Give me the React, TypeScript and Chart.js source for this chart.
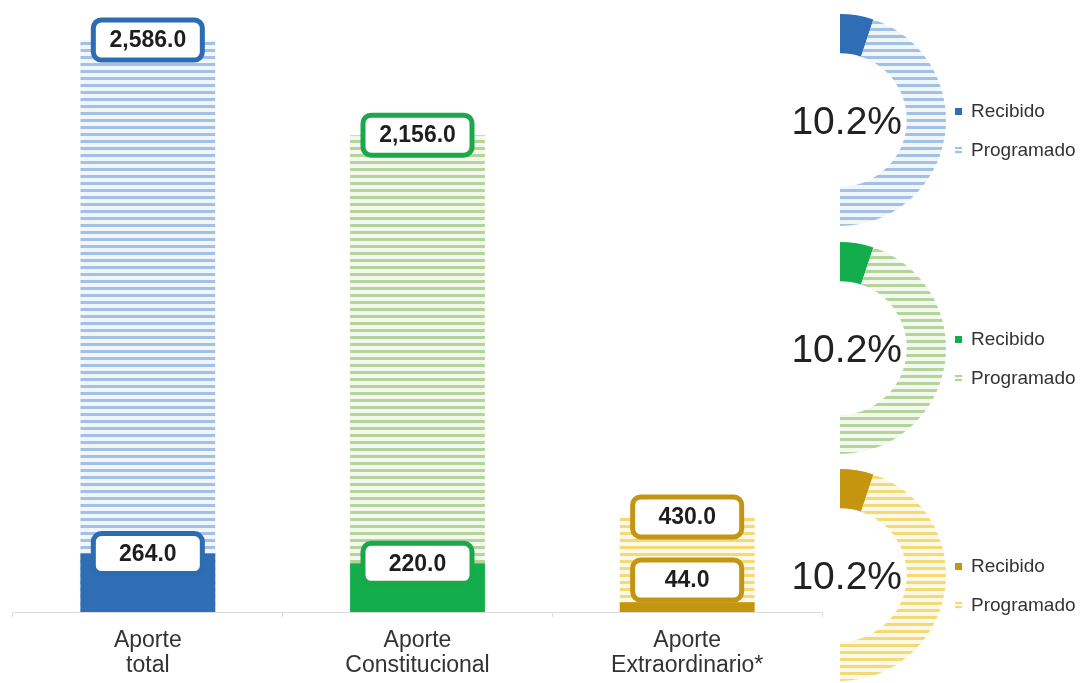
import React, { useEffect, useRef } from 'react';
import { Chart, registerables } from 'chart.js';
Chart.register(...registerables);

// ---- data ----
const categories: string[][] = [
  ['Aporte', 'total'],
  ['Aporte', 'Constitucional'],
  ['Aporte', 'Extraordinario*'],
];
const programado: number[] = [2586.0, 2156.0, 430.0];
const recibido: number[] = [264.0, 220.0, 44.0];
const seriesNames: string[] = ['Recibido', 'Programado'];
const yMax = 2767;

// ---- styles ----
const FONT = '"Liberation Sans", Arial, Helvetica, sans-serif';
const solidColors = ['#2f6db5', '#13ae4b', '#c4950f'];
const boxColors = ['#2c6cb3', '#1aa84b', '#c39513'];
const stripeLine = ['#a3c2e3', '#b4d49c', '#f3da78'];
const stripeBg = ['#f0f6fc', '#f4f9ef', '#fdf9e6'];

function makePattern(ctx: CanvasRenderingContext2D, line: string, bg: string) {
  const t = document.createElement('canvas');
  t.width = 8;
  t.height = 7;
  const c = t.getContext('2d')!;
  c.fillStyle = bg;
  c.fillRect(0, 0, 8, 7);
  c.fillStyle = line;
  c.fillRect(0, 0, 8, 3);
  return ctx.createPattern(t, 'repeat')!;
}

const fmt = (v: number) =>
  v.toLocaleString('en-US', { minimumFractionDigits: 1, maximumFractionDigits: 1 });

const boxPlugin = {
  id: 'valueBoxes',
  afterDatasetsDraw(chart: any) {
    const ctx = chart.ctx as CanvasRenderingContext2D;
    chart.data.datasets.forEach((ds: any, di: number) => {
      const meta = chart.getDatasetMeta(di);
      meta.data.forEach((el: any, i: number) => {
        const { x, y, base } = el.getProps(['x', 'y', 'base'], true);
        const w = 109;
        const h = 40;
        const cy = Math.min(y, base - 12 - h / 2);
        ctx.save();
        ctx.beginPath();
        (ctx as any).roundRect(x - w / 2, cy - h / 2, w, h, 8);
        ctx.fillStyle = '#ffffff';
        ctx.fill();
        ctx.lineWidth = 5;
        ctx.strokeStyle = boxColors[i];
        ctx.stroke();
        ctx.fillStyle = '#1e1e1e';
        ctx.font = `bold 23px ${FONT}`;
        ctx.textAlign = 'center';
        ctx.textBaseline = 'middle';
        ctx.fillText(fmt(ds.data[i]), x, cy + 1);
        ctx.restore();
      });
    });
  },
};

function BarChart() {
  const ref = useRef<HTMLCanvasElement>(null);
  useEffect(() => {
    const canvas = ref.current!;
    const ctx = canvas.getContext('2d')!;
    const patterns = stripeLine.map((l, i) => makePattern(ctx, l, stripeBg[i]));
    const chart = new Chart(canvas, {
      type: 'bar',
      data: {
        labels: categories as any,
        datasets: [
          {
            label: seriesNames[0],
            data: recibido,
            backgroundColor: solidColors,
            grouped: false,
            order: 0,
            barPercentage: 0.5,
            categoryPercentage: 1.0,
          } as any,
          {
            label: seriesNames[1],
            data: programado,
            backgroundColor: patterns as any,
            grouped: false,
            order: 1,
            barPercentage: 0.5,
            categoryPercentage: 1.0,
          } as any,
        ],
      },
      options: {
        animation: false,
        responsive: false,
        devicePixelRatio: 1,
        layout: { padding: { left: 13, right: 8, top: 0, bottom: 0 } },
        plugins: { legend: { display: false }, tooltip: { enabled: false } },
        scales: {
          y: { display: false, min: 0, max: yMax },
          x: {
            afterFit: (s: any) => {
              s.height = 71;
            },
            grid: {
              display: true,
              drawOnChartArea: false,
              offset: true,
              tickLength: 5,
              color: '#dcdcdc',
            },
            border: { display: true, color: '#dcdcdc', width: 1 },
            ticks: {
              color: '#333333',
              padding: 12,
              font: { family: FONT, size: 23, lineHeight: 1.05 },
            },
          },
        },
      },
      plugins: [boxPlugin],
    });
    return () => chart.destroy();
  }, []);
  return (
    <canvas
      ref={ref}
      width={830}
      height={683}
      style={{ position: 'absolute', left: 0, top: 0, width: 830, height: 683 }}
    />
  );
}

function HalfDoughnut({ index, top }: { index: number; top: number }) {
  const ref = useRef<HTMLCanvasElement>(null);
  useEffect(() => {
    const canvas = ref.current!;
    const ctx = canvas.getContext('2d')!;
    const pattern = makePattern(ctx, stripeLine[index], stripeBg[index]);
    const pct = (recibido[index] / programado[index]) * 100;
    const centerText = {
      id: 'centerText',
      afterDraw(chart: any) {
        const arc = chart.getDatasetMeta(0).data[0];
        if (!arc) return;
        const c = chart.ctx as CanvasRenderingContext2D;
        c.save();
        c.font = `39px ${FONT}`;
        c.fillStyle = '#222222';
        c.textAlign = 'right';
        c.textBaseline = 'alphabetic';
        c.fillText(pct.toFixed(1) + '%', arc.x + 62, arc.y + 14);
        c.restore();
      },
    };
    const chart = new Chart(canvas, {
      type: 'doughnut',
      data: {
        labels: seriesNames,
        datasets: [
          {
            data: [recibido[index], programado[index] - recibido[index]],
            backgroundColor: [solidColors[index], pattern as any],
            borderWidth: 0,
            hoverOffset: 0,
          } as any,
        ],
      },
      options: {
        animation: false,
        responsive: false,
        devicePixelRatio: 1,
        rotation: 0,
        circumference: 180,
        cutout: '63%',
        layout: { padding: 0 },
        plugins: { legend: { display: false }, tooltip: { enabled: false } },
      },
      plugins: [centerText],
    });
    return () => chart.destroy();
  }, [index]);
  return (
    <canvas
      ref={ref}
      width={244}
      height={212}
      style={{ position: 'absolute', left: 771, top, width: 244, height: 212 }}
    />
  );
}

function Legend({ index, cy }: { index: number; cy: number }) {
  const item = (name: string, k: number, y: number) => (
    <div
      key={name}
      style={{
        position: 'absolute',
        left: 955,
        top: y - 12,
        height: 24,
        display: 'flex',
        alignItems: 'center',
        font: `19px ${FONT}`,
        color: '#333',
        whiteSpace: 'nowrap',
      }}
    >
      <span
        style={{
          display: 'inline-block',
          width: 7,
          height: 7,
          marginRight: 9,
          background:
            k === 0
              ? solidColors[index]
              : `repeating-linear-gradient(to bottom, ${stripeLine[index]} 0px, ${stripeLine[index]} 2px, ${stripeBg[index]} 2px, ${stripeBg[index]} 4px)`,
        }}
      />
      {name}
    </div>
  );
  return (
    <>
      {item(seriesNames[0], 0, cy - 9)}
      {item(seriesNames[1], 1, cy + 30)}
    </>
  );
}

export default function App() {
  const tops = [14, 242, 469];
  return (
    <div
      style={{
        position: 'absolute',
        left: 0,
        top: 0,
        width: 1085,
        height: 683,
        overflow: 'hidden',
        background: '#ffffff',
        fontFamily: FONT,
      }}
    >
      <BarChart />
      {tops.map((t, i) => (
        <HalfDoughnut key={i} index={i} top={t} />
      ))}
      {tops.map((t, i) => (
        <Legend key={'l' + i} index={i} cy={t + 106} />
      ))}
    </div>
  );
}
